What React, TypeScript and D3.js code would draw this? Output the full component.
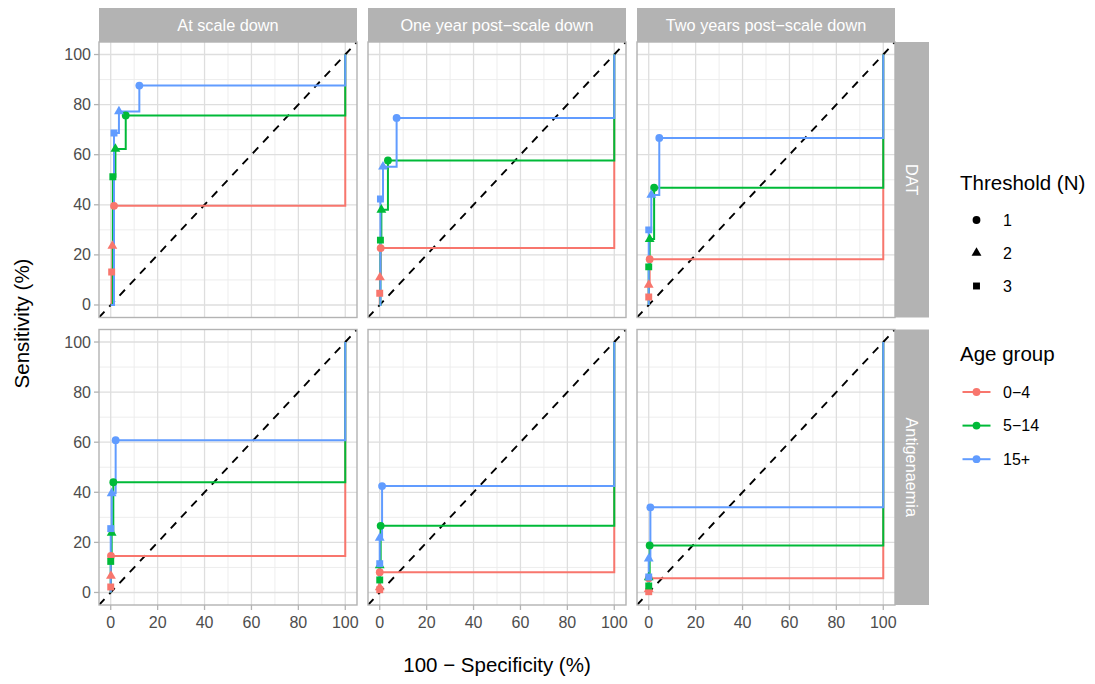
import React from "react";
import * as d3 from "d3";

// Facet labels, groups and axis breaks
const periods = ["At scale down", "One year post\u2212scale down", "Two years post\u2212scale down"];
const tests = ["DAT", "Antigenaemia"];
const ageGroups = ["0\u22124", "5\u221214", "15+"];
const ageColours = ["#F8766D", "#00BA38", "#619CFF"];
const thresholds = ["1", "2", "3"];
const majorBreaks = [0, 20, 40, 60, 80, 100];
const minorBreaks = [10, 30, 50, 70, 90];

// Sensitivity (%) by [period][age group][threshold N = 1, 2, 3]
const datSensitivity = [
  [[39.6, 23.6, 13.2], [75.7, 62.3, 51.2], [87.6, 77.3, 68.7]],
  [[22.7, 11.0, 4.7], [57.7, 38.0, 25.9], [74.7, 55.2, 42.3]],
  [[18.3, 8.0, 3.2], [46.8, 26.3, 15.2], [66.7, 43.9, 30.0]],
];
// 100 − specificity (%) by [period][age group][threshold N = 1, 2, 3]
const datFalsePositive = [
  [[1.4, 0.7, 0.4], [6.4, 2.0, 0.9], [12.2, 3.5, 1.4]],
  [[0.4, 0.1, 0.0], [3.5, 0.7, 0.3], [7.2, 1.4, 0.3]],
  [[0.4, 0.0, 0.0], [2.3, 0.4, 0.0], [4.5, 1.1, 0.0]],
];
const antigenSensitivity = [
  [[14.6, 6.6, 2.2], [44.0, 23.8, 12.4], [60.8, 39.6, 25.5]],
  [[8.1, 2.0, 1.1], [26.6, 10.8, 5.0], [42.5, 21.8, 11.5]],
  [[5.7, 1.3, 0.3], [18.8, 6.0, 2.6], [34.0, 13.5, 6.2]],
];
const antigenFalsePositive = [
  [[0.1, 0.1, 0.0], [1.1, 0.4, 0.0], [2.1, 0.4, 0.0]],
  [[0.0, 0.0, 0.0], [0.4, 0.0, 0.0], [1.0, 0.0, 0.0]],
  [[0.0, 0.0, 0.0], [0.4, 0.0, 0.0], [0.7, 0.0, 0.0]],
];

const sensitivityByTest = [datSensitivity, antigenSensitivity];
const falsePositiveByTest = [datFalsePositive, antigenFalsePositive];

const FONT = "'Liberation Sans', Arial, Helvetica, sans-serif";
const colLeft = [99, 368, 637];
const panelW = 258;
const rowTop = [42, 329.5];
const panelH = 275.5;
const stripTop = 8;
const stripSize = 34;

const symbolPath = (t: number) => {
  const types = [d3.symbolCircle, d3.symbolTriangle, d3.symbolSquare];
  const sizes = [48, 42, 48];
  return d3.symbol().type(types[t]).size(sizes[t])() as string;
};

function Panel({ row, col }: { row: number; col: number }) {
  const x = d3.scaleLinear().domain([-5, 105]).range([colLeft[col], colLeft[col] + panelW]);
  const y = d3.scaleLinear().domain([-5, 105]).range([rowTop[row] + panelH, rowTop[row]]);
  const clipId = `clip-${row}-${col}`;
  const step = d3
    .line<[number, number]>()
    .x((d) => x(d[0]))
    .y((d) => y(d[1]))
    .curve(d3.curveStepAfter);
  const sens = sensitivityByTest[row][col];
  const fpr = falsePositiveByTest[row][col];
  const x0 = colLeft[col];
  const y0 = rowTop[row];

  return (
    <g>
      <defs>
        <clipPath id={clipId}>
          <rect x={x0} y={y0} width={panelW} height={panelH} />
        </clipPath>
      </defs>
      <rect x={x0} y={y0} width={panelW} height={panelH} fill="#ffffff" />
      {minorBreaks.map((v) => (
        <g key={`m${v}`}>
          <line x1={x(v)} x2={x(v)} y1={y0} y2={y0 + panelH} stroke="#ebebeb" strokeWidth={0.9} />
          <line x1={x0} x2={x0 + panelW} y1={y(v)} y2={y(v)} stroke="#ebebeb" strokeWidth={0.9} />
        </g>
      ))}
      {majorBreaks.map((v) => (
        <g key={`M${v}`}>
          <line x1={x(v)} x2={x(v)} y1={y0} y2={y0 + panelH} stroke="#dedede" strokeWidth={1.3} />
          <line x1={x0} x2={x0 + panelW} y1={y(v)} y2={y(v)} stroke="#dedede" strokeWidth={1.3} />
        </g>
      ))}
      <g clipPath={`url(#${clipId})`}>
        <line
          x1={x(-5)}
          y1={y(-5)}
          x2={x(105)}
          y2={y(105)}
          stroke="#000000"
          strokeWidth={1.9}
          strokeDasharray="8 7"
        />
        {ageGroups.map((g, a) => {
          const pts: [number, number][] = [[0, 0]];
          for (let t = 2; t >= 0; t--) pts.push([fpr[a][t], sens[a][t]]);
          pts.push([100, 100]);
          return (
            <path key={g} d={step(pts) as string} fill="none" stroke={ageColours[a]} strokeWidth={2} />
          );
        })}
        {ageGroups.map((g, a) =>
          thresholds.map((th, t) => (
            <path
              key={`${g}-${th}`}
              d={symbolPath(t)}
              transform={`translate(${x(fpr[a][t])},${y(sens[a][t])})`}
              fill={ageColours[a]}
            />
          ))
        )}
      </g>
      <rect x={x0} y={y0} width={panelW} height={panelH} fill="none" stroke="#b3b3b3" strokeWidth={1.4} />
    </g>
  );
}

export default function App() {
  const xAxisScales = colLeft.map((l) => d3.scaleLinear().domain([-5, 105]).range([l, l + panelW]));
  const yAxisScales = rowTop.map((t) => d3.scaleLinear().domain([-5, 105]).range([t + panelH, t]));
  const bottom = rowTop[1] + panelH;

  return (
    <svg
      width={1095}
      height={684}
      style={{ position: "absolute", left: 0, top: 0, fontFamily: FONT }}
    >
      <rect width={1095} height={684} fill="#ffffff" />

      {/* column strips */}
      {periods.map((p, c) => (
        <g key={p}>
          <rect x={colLeft[c]} y={stripTop} width={panelW} height={stripSize} fill="#b3b3b3" />
          <text
            x={colLeft[c] + panelW / 2}
            y={stripTop + stripSize / 2}
            textAnchor="middle"
            dominantBaseline="central"
            fontSize={16.3}
            fill="#ffffff"
          >
            {p}
          </text>
        </g>
      ))}

      {/* row strips */}
      {tests.map((tname, r) => {
        const cx = colLeft[2] + panelW + stripSize / 2;
        const cy = rowTop[r] + panelH / 2;
        return (
          <g key={tname}>
            <rect x={colLeft[2] + panelW} y={rowTop[r]} width={stripSize} height={panelH} fill="#b3b3b3" />
            <text
              transform={`translate(${cx},${cy}) rotate(90)`}
              textAnchor="middle"
              dominantBaseline="central"
              fontSize={16.3}
              fill="#ffffff"
            >
              {tname}
            </text>
          </g>
        );
      })}

      {tests.map((_, r) => periods.map((_, c) => <Panel key={`${r}-${c}`} row={r} col={c} />))}

      {/* y axes */}
      {yAxisScales.map((ys, r) => (
        <g key={`ya${r}`}>
          {majorBreaks.map((v) => (
            <g key={v}>
              <line x1={colLeft[0] - 5} x2={colLeft[0]} y1={ys(v)} y2={ys(v)} stroke="#b3b3b3" strokeWidth={1.3} />
              <text
                x={colLeft[0] - 8}
                y={ys(v)}
                textAnchor="end"
                dominantBaseline="central"
                fontSize={16}
                fill="#4d4d4d"
              >
                {v}
              </text>
            </g>
          ))}
        </g>
      ))}

      {/* x axes */}
      {xAxisScales.map((xs, c) => (
        <g key={`xa${c}`}>
          {majorBreaks.map((v) => (
            <g key={v}>
              <line x1={xs(v)} x2={xs(v)} y1={bottom} y2={bottom + 5} stroke="#b3b3b3" strokeWidth={1.3} />
              <text x={xs(v)} y={bottom + 23} textAnchor="middle" fontSize={16} fill="#4d4d4d">
                {v}
              </text>
            </g>
          ))}
        </g>
      ))}

      {/* axis titles */}
      <text x={(colLeft[0] + colLeft[2] + panelW) / 2} y={672} textAnchor="middle" fontSize={20.5} fill="#000000">
        100 − Specificity (%)
      </text>
      <text
        transform={`translate(29,${(rowTop[0] + bottom) / 2}) rotate(-90)`}
        textAnchor="middle"
        fontSize={20.5}
        fill="#000000"
      >
        Sensitivity (%)
      </text>

      {/* legend: threshold shapes */}
      <text x={960} y={190} fontSize={20.5} fill="#000000">
        Threshold (N)
      </text>
      {thresholds.map((th, t) => {
        const ky = 220 + t * 33;
        return (
          <g key={`lt${th}`}>
            <path d={symbolPath(t)} transform={`translate(976.5,${ky})`} fill="#000000" />
            <text x={1003} y={ky} dominantBaseline="central" fontSize={16} fill="#000000">
              {th}
            </text>
          </g>
        );
      })}

      {/* legend: age group colours */}
      <text x={960} y={361} fontSize={20.5} fill="#000000">
        Age group
      </text>
      {ageGroups.map((g, a) => {
        const ky = 392 + a * 33.6;
        return (
          <g key={`la${g}`}>
            <line x1={962.5} x2={990.5} y1={ky} y2={ky} stroke={ageColours[a]} strokeWidth={2} />
            <path d={symbolPath(0)} transform={`translate(976.5,${ky})`} fill={ageColours[a]} />
            <text x={1003} y={ky} dominantBaseline="central" fontSize={16} fill="#000000">
              {g}
            </text>
          </g>
        );
      })}
    </svg>
  );
}
